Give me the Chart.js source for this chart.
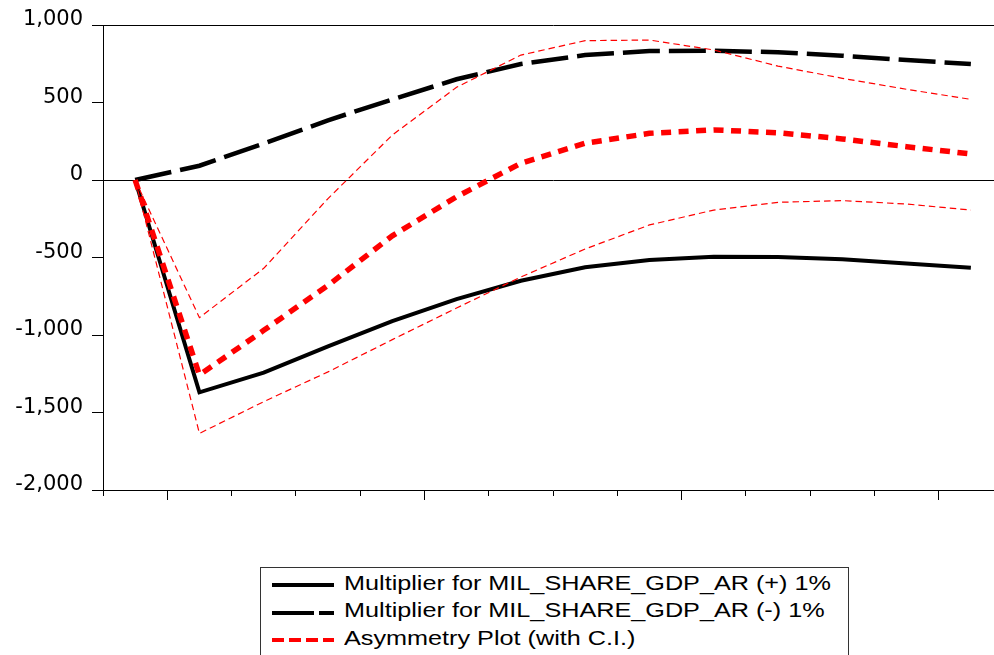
<!DOCTYPE html>
<html>
<head>
<meta charset="utf-8">
<script src="https://cdn.jsdelivr.net/npm/chart.js@4.4.0/dist/chart.umd.min.js"></script>
<style>
html,body{margin:0;padding:0;background:#fff;overflow:hidden;width:994px;height:655px;}
#wrap{position:absolute;left:0;top:0;width:1010px;height:655px;}
#legend{position:absolute;left:260px;top:567px;width:589px;height:120px;border:1px solid #333;box-sizing:border-box;background:#fff;}
.row{position:absolute;left:0;height:27.5px;line-height:27.5px;width:600px;}
.row svg{position:absolute;left:11px;top:11.5px;}
.row span{position:absolute;left:83px;top:0;font-family:"Liberation Sans",Arial,sans-serif;font-size:20.5px;white-space:nowrap;transform:scaleX(1.23);transform-origin:0 0;color:#000;}
</style>
</head>
<body>
<div id="wrap"><canvas id="c" width="1010" height="655"></canvas></div>
<div id="legend"></div>
<script>
// ---- data ----
const periods = ['1','2','3','4','5','6','7','8','9','10','11','12','13','14'];
const multPos   = [0,-1370,-1243,-1073,-910,-768,-650,-563,-516,-495,-497,-512,-538,-566];
const multNeg   = [0,92,235,385,520,650,748,806,832,834,824,802,774,748];
const asym      = [0,-1258,-970,-680,-360,-108,108,237,301,323,305,265,215,168];
const asymUpper = [0,-888,-570,-120,290,598,806,899,903,839,735,656,585,520];
const asymLower = [0,-1635,-1430,-1238,-1030,-826,-626,-445,-290,-194,-144,-133,-155,-194];
const yTickValues = [-2000,-1500,-1000,-500,0,500,1000];
const majorTickAfter = [0,4,8,12];
const seriesNames = [
  'Multiplier for MIL_SHARE_GDP_AR (+) 1%',
  'Multiplier for MIL_SHARE_GDP_AR (-) 1%',
  'Asymmetry Plot (with C.I.)'
];

// ---- legend (HTML) ----
const legendStyles = [
  {color:'#000', dash:''},
  {color:'#000', dash:'42 5'},
  {color:'#ff0000', dash:'12 5'}
];
const leg = document.getElementById('legend');
seriesNames.forEach((name, i) => {
  const row = document.createElement('div');
  row.className = 'row';
  row.style.top = (0.6 + i * 27.5) + 'px';
  const st = legendStyles[i];
  row.innerHTML = '<svg width="62" height="10"><line x1="0" y1="5" x2="62" y2="5" stroke="' + st.color +
    '" stroke-width="4"' + (st.dash ? ' stroke-dasharray="' + st.dash + '"' : '') + '/></svg>';
  const sp = document.createElement('span');
  sp.textContent = name;
  row.appendChild(sp);
  leg.appendChild(row);
});

// ---- plugin: longer major ticks on x axis ----
const majorTicks = {
  id: 'majorTicks',
  afterDraw(chart) {
    const xs = chart.scales.x, ctx = chart.ctx;
    const y0 = xs.top;
    ctx.save();
    ctx.strokeStyle = '#000';
    ctx.lineWidth = 1;
    majorTickAfter.forEach(i => {
      const p = (xs.getPixelForValue(i) + xs.getPixelForValue(i + 1)) / 2;
      const px = Math.round(p - 0.5) + 0.5;
      ctx.beginPath();
      ctx.moveTo(px, y0);
      ctx.lineTo(px, y0 + 10);
      ctx.stroke();
    });
    ctx.restore();
  }
};

const common = {pointRadius:0, pointHoverRadius:0, tension:0, fill:false, borderCapStyle:'butt', borderJoinStyle:'miter'};

new Chart(document.getElementById('c'), {
  type: 'line',
  data: {
    labels: periods,
    datasets: [
      Object.assign({label: seriesNames[2], data: asym, borderColor:'#ff0000', borderWidth:5.5, borderDash:[10,7.5]}, common),
      Object.assign({label: 'Upper C.I.', data: asymUpper, borderColor:'#ff0000', borderWidth:1.2, borderDash:[6.5,4]}, common),
      Object.assign({label: 'Lower C.I.', data: asymLower, borderColor:'#ff0000', borderWidth:1.2, borderDash:[6.5,4]}, common),
      Object.assign({label: seriesNames[0], data: multPos, borderColor:'#000', borderWidth:4}, common),
      Object.assign({label: seriesNames[1], data: multNeg, borderColor:'#000', borderWidth:4.5, borderDash:[37,9]}, common)
    ]
  },
  options: {
    responsive: false,
    animation: false,
    devicePixelRatio: 1,
    events: [],
    layout: {padding: {left: 0, top: 25, right: 7, bottom: 0}},
    plugins: {legend: {display: false}, tooltip: {enabled: false}},
    scales: {
      x: {
        type: 'category',
        offset: true,
        afterFit: s => { s.height = 165; },
        border: {display: true, color: '#000', width: 1},
        grid: {offset: true, drawOnChartArea: false, drawTicks: true, tickLength: 6, tickColor: '#000', color: '#000', lineWidth: 1},
        ticks: {display: false}
      },
      y: {
        type: 'linear',
        min: -2000,
        max: 1000,
        afterBuildTicks: s => { s.ticks = yTickValues.map(v => ({value: v})); },
        afterFit: s => { s.width = 103; },
        border: {display: true, color: '#000', width: 1},
        grid: {
          drawOnChartArea: true,
          color: c => (c.tick && (c.tick.value === 0 || c.tick.value === 1000)) ? '#000' : 'rgba(0,0,0,0)',
          lineWidth: 1,
          drawTicks: true,
          tickLength: 11,
          tickColor: '#000'
        },
        ticks: {
          color: '#000',
          font: {family: 'DejaVu Sans', size: 21},
          padding: 9,
          labelOffset: -5,
          callback: v => Number(v).toLocaleString('en-US')
        }
      }
    }
  },
  plugins: [majorTicks]
});
</script>
</body>
</html>
